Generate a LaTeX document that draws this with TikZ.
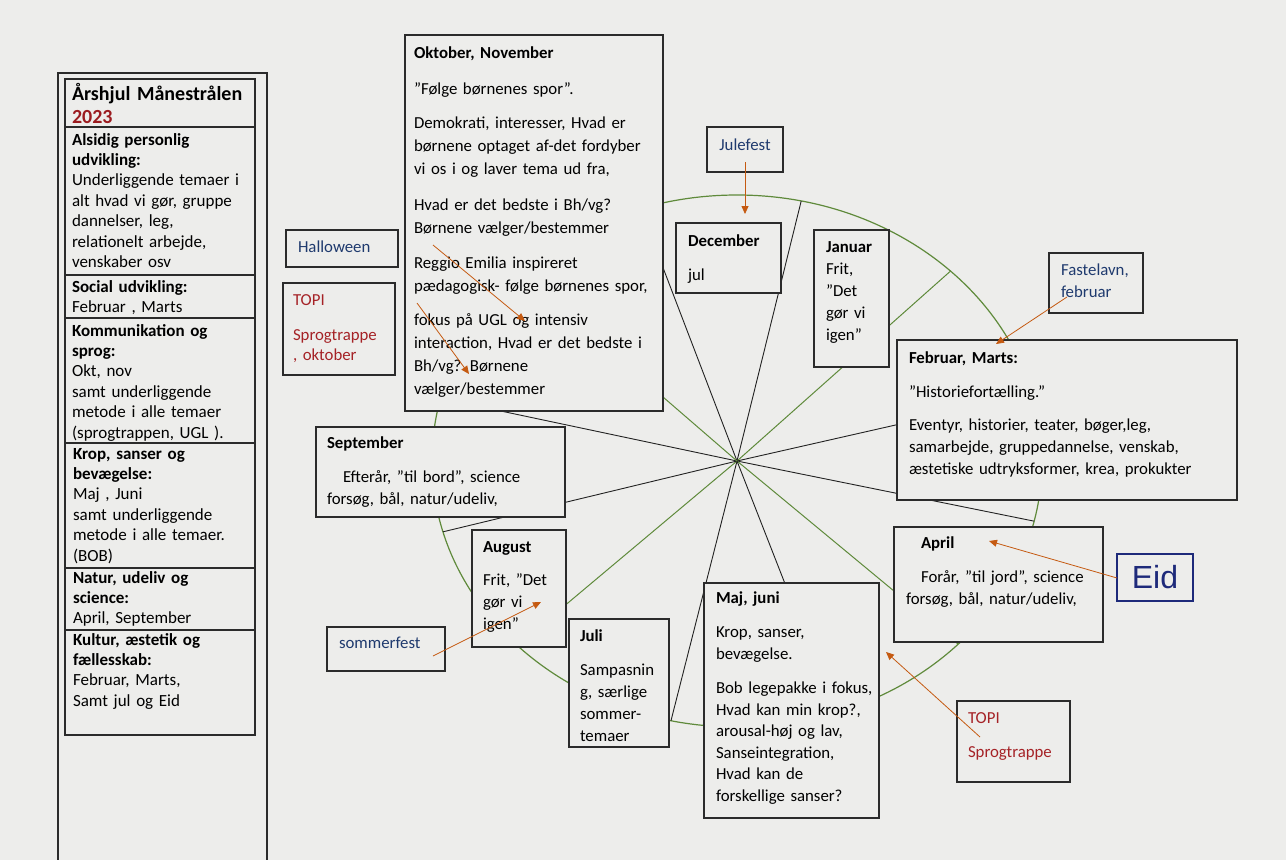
\documentclass[tikz,border=0pt]{standalone}
\usepackage{fontspec}
\setmainfont{Carlito}
\newfontfamily\eidfont{Liberation Sans}
\usetikzlibrary{arrows.meta,fit,calc}
\definecolor{paper}{HTML}{EDEDEB}
\definecolor{boxline}{HTML}{2B2B2B}
\definecolor{navytext}{HTML}{1F3A6E}
\definecolor{redtext}{HTML}{A52226}
\definecolor{yearred}{HTML}{9B1B1F}
\definecolor{arrorange}{HTML}{C55A11}
\definecolor{wheelgreen}{HTML}{5F8A3B}
\definecolor{spokeblack}{HTML}{222222}
\definecolor{eidblue}{HTML}{1E2A7A}
\begin{document}
\begin{tikzpicture}[x=1pt,y=-1pt,
  box/.style={draw=boxline, line width=1.1pt, fill=paper, inner sep=0pt, outer sep=0pt},
  txt/.style={inner sep=0pt, outer sep=0pt, anchor=base west, align=left, text width=#1,
    font=\fontsize{16.8}{22}\selectfont},
  txt/.default=250pt,
  tbltxt/.style={inner sep=0pt, outer sep=0pt, anchor=base west, align=left, text width=185pt,
    font=\fontsize{17}{20.4}\selectfont},
  spk/.style={draw=spokeblack, line width=0.9pt},
  spg/.style={draw=wheelgreen, line width=1pt},
  arr/.style={draw=arrorange, line width=0.8pt, -{Triangle[length=8pt,width=7pt]}},
]
\useasboundingbox (0,0) rectangle (1286,860);
\fill[paper] (0,0) rectangle (1286,860);

% ---------- wheel ----------
\coordinate (c) at (737,461);
\draw[wheelgreen, line width=1.2pt] (c) ellipse [x radius=305, y radius=266];
\foreach \n/\ddx/\ddy/\sty in {1/-62/-162/spk, 2/40/-162/spk, 3/163/-145/spg, 4/163/-37/spk,
  5/163/33/spk, 6/163/135/spg, 7/45/115/spk, 8/-30/118/spk, 9/-137/115/spg, 10/-137/33/spk,
  11/-137/-29/spk, 12/-74/-64/spg}{
  \pgfmathsetmacro\tfac{1/sqrt(((\ddx)/305)^2+((\ddy)/266)^2)}
  \pgfmathsetmacro\ex{\tfac*(\ddx)}
  \pgfmathsetmacro\ey{\tfac*(\ddy)}
  \coordinate (e\n) at ($(c)+(\ex,\ey)$);
  \draw[\sty] (c) -- (e\n);
}

% ---------- left panel ----------
\draw[boxline, line width=1.1pt] (58,862) -- (58,73) -- (267,73) -- (267,862);
\node[box, fit={(65,79) (255,735)}] (tbl) {};
\foreach \yy in {127,275,318,443,568,630}{
  \draw[boxline, line width=1.1pt] (65,\yy) -- (255,\yy);
}
\node[tbltxt, font=\fontsize{20}{23}\selectfont] (ttitle) at (72,100)
  {\textbf{Årshjul Månestrålen}\\ \textbf{\textcolor{yearred}{2023}}};
\node[tbltxt] (trow1) at (72,145)
  {\textbf{Alsidig personlig}\\ \textbf{udvikling:}\\ Underliggende temaer i\\ alt hvad vi gør, gruppe\\ dannelser, leg,\\ relationelt arbejde,\\ venskaber osv};
\node[tbltxt] (trow2) at (72,292)
  {\textbf{Social udvikling:}\\ Februar , Marts};
\node[tbltxt] (trow3) at (72,336)
  {\textbf{Kommunikation og}\\ \textbf{sprog:}\\ Okt, nov\\ samt underliggende\\ metode i alle temaer\\ (sprogtrappen, UGL ).};
\node[tbltxt] (trow4) at (73,459)
  {\textbf{Krop, sanser og}\\ \textbf{bevægelse:}\\ Maj , Juni\\ samt underliggende\\ metode i alle temaer.\\ (BOB)};
\node[tbltxt] (trow5) at (73,583)
  {\textbf{Natur, udeliv og}\\ \textbf{science:}\\ April, September};
\node[tbltxt] (trow6) at (73,645)
  {\textbf{Kultur, æstetik og}\\ \textbf{fællesskab:}\\ Februar, Marts,\\ Samt jul og Eid};

% ---------- boxes ----------
\node[box, fit={(405,35) (663,411)}] (okt) {};
\node[box, fit={(286,230) (398,267)}] (hallo) {};
\node[box, fit={(283,283) (395,375)}] (topil) {};
\node[box, fit={(707,127) (783,172)}] (julefest) {};
\node[box, fit={(676,223) (781,293)}] (dec) {};
\node[box, fit={(814,230) (889,367)}] (jan) {};
\node[box, fit={(1049,253) (1143,313)}] (fast) {};
\node[box, fit={(897,340) (1237,500)}] (feb) {};
\node[box, fit={(316,427) (565,517)}] (sep) {};
\node[box, fit={(472,530) (566,647)}] (aug) {};
\node[box, fit={(327,627) (445,671)}] (somm) {};
\node[box, fit={(569,619) (669,747)}] (juli) {};
\node[box, fit={(704,583) (879,818)}] (maj) {};
\node[box, fit={(894,527) (1103,642)}] (april) {};
\node[box, draw=eidblue, line width=1.5pt, fit={(1117,554) (1193,601)}] (eid) {};
\node[box, fit={(957,701) (1070,782)}] (topir) {};

% ---------- texts ----------
\node[txt, font=\fontsize{16.8}{23}\selectfont] (oktT) at (414,58)
  {\textbf{Oktober, November}\\[13pt]
   ”Følge børnenes spor”.\\[11pt]
   Demokrati, interesser, Hvad er\\ børnene optaget af-det fordyber\\ vi os i og laver tema ud fra,\\[13pt]
   Hvad er det bedste i Bh/vg?\\ Børnene vælger/bestemmer\\[12pt]
   Reggio Emilia inspireret\\ pædagogisk- følge børnenes spor,\\[11pt]
   fokus på UGL og intensiv\\ interaction, Hvad er det bedste i\\ Bh/vg? Børnene\\ vælger/bestemmer};
\node[txt, text=navytext] (halloT) at (298,252) {Halloween};
\node[txt, text=redtext] (topilT) at (293,305) {TOPI\\[13pt] Sprogtrappe\\[-2pt] , oktober};
\node[inner sep=0pt, anchor=base, text=navytext, font=\fontsize{16.8}{22}\selectfont] (julefestT) at (745,150) {Julefest};
\node[txt] (decT) at (688,246) {\textbf{December}\\[12pt] jul};
\node[txt] (janT) at (826,252) {\textbf{Januar}\\ Frit,\\ ”Det\\ gør vi\\ igen”};
\node[txt, text=navytext] (fastT) at (1061,275) {Fastelavn,\\ februar};
\node[txt=330pt] (febT) at (909,363)
  {\textbf{Februar, Marts:}\\[12pt] ”Historiefortælling.”\\[11pt]
   Eventyr, historier, teater, bøger,leg,\\ samarbejde, gruppedannelse, venskab,\\ æstetiske udtryksformer, krea, prokukter};
\node[txt] (sepT) at (327,448)
  {\textbf{September}\\[12pt] \hspace*{16pt}Efterår, ”til bord”, science\\ forsøg, bål, natur/udeliv,};
\node[txt] (augT) at (483,552) {\textbf{August}\\[11pt] Frit, ”Det\\ gør vi\\ igen”};
\node[txt, text=navytext] (sommT) at (339,648) {sommerfest};
\node[txt] (juliT) at (580,641) {\textbf{Juli}\\[12pt] Sampasnin\\ g, særlige\\ sommer-\\ temaer};
\node[txt, font=\fontsize{16.8}{21.5}\selectfont] (majT) at (716,603)
  {\textbf{Maj, juni}\\[13pt] Krop, sanser,\\ bevægelse.\\[13pt]
   Bob legepakke i fokus,\\ Hvad kan min krop?,\\ arousal-høj og lav,\\ Sanseintegration,\\ Hvad kan de\\ forskellige sanser?};
\node[txt] (aprilT) at (906,548)
  {\hspace*{15pt}\textbf{April}\\[12pt] \hspace*{15pt}Forår, ”til jord”, science\\ forsøg, bål, natur/udeliv,};
\node[inner sep=0pt, text=eidblue, font=\eidfont\fontsize{32}{32}\selectfont] (eidT) at (1155,577) {Eid};
\node[txt, text=redtext] (topirT) at (968,723) {TOPI\\[12pt] Sprogtrappe};

% ---------- arrows ----------
\coordinate (a1s) at (745,162);  \coordinate (a1e) at (745,214);
\coordinate (a2s) at (1067,297); \coordinate (a2e) at (996,344);
\coordinate (a3s) at (1117,578); \coordinate (a3e) at (989,541);
\coordinate (a4s) at (980,737);  \coordinate (a4e) at (886,652);
\coordinate (a5s) at (433,656);  \coordinate (a5e) at (541,602);
\coordinate (a6s) at (433,245);  \coordinate (a6e) at (525,321);
\coordinate (a7s) at (417,303);  \coordinate (a7e) at (469,374);
\foreach \kk in {1,...,7}{ \draw[arr] (a\kk s) -- (a\kk e); }
\end{tikzpicture}
\end{document}
